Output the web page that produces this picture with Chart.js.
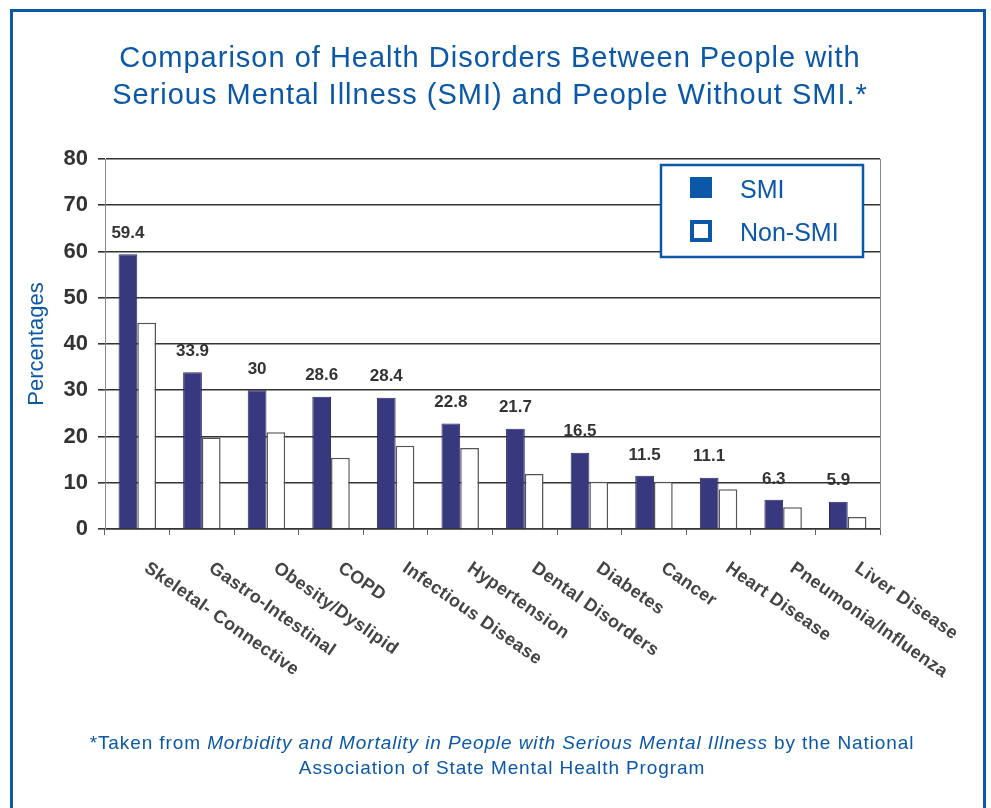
<!DOCTYPE html>
<html>
<head>
<meta charset="utf-8">
<script src="https://cdn.jsdelivr.net/npm/chart.js@4"></script>
<style>
  html, body { margin: 0; padding: 0; background: #fff; }
  body { width: 991px; height: 808px; position: relative; overflow: hidden; }
  #frame {
    position: absolute; left: 10px; top: 9px; width: 970px; height: 820px;
    border: 3px solid #0b58a8; box-sizing: content-box;
  }
  #title {
    position: absolute; left: 0; top: 39px; width: 980px; text-align: center;
    font: 29px/37px "Liberation Sans", Arial, sans-serif; letter-spacing: 1px; color: #0b58a8;
  }
  #note {
    position: absolute; left: 0; top: 730px; width: 1004px; text-align: center;
    font: 19px/25px "Liberation Sans", Arial, sans-serif; letter-spacing: 0.9px; color: #0b58a8;
  }
  #wrap { position: absolute; left: 0; top: 0; width: 991px; height: 808px; }
</style>
</head>
<body>
<div id="frame"></div>
<div id="wrap"><canvas id="chart"></canvas></div>
<div id="title">Comparison of Health Disorders Between People with<br>Serious Mental Illness (SMI) and People Without SMI.*</div>
<div id="note">*Taken from <i>Morbidity and Mortality in People with Serious Mental Illness</i> by the National<br>Association of State Mental Health Program</div>
<script>
// données
const categories = ['Skeletal- Connective', 'Gastro-Intestinal', 'Obesity/Dyslipid', 'COPD',
  'Infectious Disease', 'Hypertension', 'Dental Disorders', 'Diabetes', 'Cancer',
  'Heart Disease', 'Pneumonia/Influenza', 'Liver Disease'];
const smiValues = [59.4, 33.9, 30, 28.6, 28.4, 22.8, 21.7, 16.5, 11.5, 11.1, 6.3, 5.9];
const nonSmiValues = [44.6, 19.8, 20.9, 15.4, 18.0, 17.5, 11.9, 10.2, 10.2, 8.6, 4.7, 2.6];
const seriesNames = ['SMI', 'Non-SMI'];
const yTicks = [0, 10, 20, 30, 40, 50, 60, 70, 80];

const BLUE = '#0b58a8';
const NAVY = '#38387f';

// étiquettes de catégories inclinées vers le bas (début du texte près du repère)
const slantLabels = {
  id: 'slantLabels',
  afterDraw(chart) {
    const ctx = chart.ctx, xs = chart.scales.x;
    ctx.save();
    ctx.font = 'bold 18px "Liberation Sans", Arial, sans-serif';
    ctx.fillStyle = '#444';
    ctx.letterSpacing = '0.4px';
    ctx.textBaseline = 'top';
    ctx.textAlign = 'left';
    categories.forEach((c, i) => {
      const x = xs.getPixelForValue(i);
      ctx.save();
      ctx.translate(x + 14, chart.chartArea.bottom + 30);
      ctx.rotate(35 * Math.PI / 180);
      ctx.fillText(c, 0, 0);
      ctx.restore();
    });
    ctx.restore();
  }
};

// valeurs au-dessus des barres SMI
const valueLabels = {
  id: 'valueLabels',
  afterDatasetsDraw(chart) {
    const ctx = chart.ctx;
    const meta = chart.getDatasetMeta(0);
    ctx.save();
    ctx.font = 'bold 17px "Liberation Sans", Arial, sans-serif';
    ctx.fillStyle = '#333';
    ctx.textAlign = 'center';
    ctx.textBaseline = 'middle';
    meta.data.forEach((bar, i) => {
      ctx.fillText(String(smiValues[i]), bar.x, bar.y - 21);
    });
    ctx.restore();
  }
};

// bord droit de la zone de tracé
const rightEdge = {
  id: 'rightEdge',
  beforeDatasetsDraw(chart) {
    const {ctx, chartArea: a} = chart;
    ctx.save();
    ctx.strokeStyle = '#888';
    ctx.lineWidth = 1;
    ctx.beginPath();
    ctx.moveTo(a.right + 0.5, a.top);
    ctx.lineTo(a.right + 0.5, a.bottom);
    ctx.stroke();
    ctx.restore();
  }
};

// légende encadrée dans le coin supérieur droit
const boxLegend = {
  id: 'boxLegend',
  afterDraw(chart) {
    const ctx = chart.ctx;
    const x = 661, y = 165, w = 202, h = 92;
    ctx.save();
    ctx.fillStyle = '#fff';
    ctx.fillRect(x, y, w, h);
    ctx.strokeStyle = BLUE;
    ctx.lineWidth = 2.5;
    ctx.strokeRect(x, y, w, h);
    ctx.font = '25px "Liberation Sans", Arial, sans-serif';
    ctx.textBaseline = 'middle';
    chart.data.datasets.forEach((ds, i) => {
      const cy = 188 + i * 43;
      if (i === 0) {
        ctx.fillStyle = BLUE;
        ctx.fillRect(690, cy - 11, 22, 21);
      } else {
        ctx.strokeStyle = BLUE;
        ctx.lineWidth = 4;
        ctx.strokeRect(692, cy - 9, 18, 18);
      }
      ctx.fillStyle = BLUE;
      ctx.fillText(ds.label, 740, cy + 3);
    });
    ctx.restore();
  }
};

new Chart(document.getElementById('chart'), {
  type: 'bar',
  data: {
    labels: categories,
    datasets: [
      {
        label: seriesNames[0],
        data: smiValues,
        backgroundColor: NAVY,
        borderColor: '#2a2a66',
        borderWidth: 1,
        borderSkipped: 'start'
      },
      {
        label: seriesNames[1],
        data: nonSmiValues,
        backgroundColor: '#fff',
        borderColor: '#555',
        borderWidth: 1.5,
        borderSkipped: 'start'
      }
    ]
  },
  options: {
    responsive: true,
    maintainAspectRatio: false,
    animation: false,
    layout: { padding: { left: 12, right: 111, top: 159, bottom: 271 } },
    datasets: { bar: { categoryPercentage: 0.58, barPercentage: 1 } },
    plugins: { legend: { display: false }, tooltip: { enabled: false } },
    scales: {
      x: {
        afterFit(s) { s.height = 8; },
        ticks: { display: false },
        grid: { drawOnChartArea: false, drawTicks: true, tickLength: 6, color: '#666', offset: true },
        border: { display: true, color: '#333', width: 1.5 }
      },
      y: {
        min: 0,
        max: 80,
        afterFit(s) { s.width = 93; },
        afterBuildTicks(s) { s.ticks = yTicks.map(v => ({ value: v })); },
        ticks: {
          padding: 10,
          color: '#333',
          font: { family: '"Liberation Sans", Arial, sans-serif', size: 22, weight: 'bold' }
        },
        grid: { color: '#333', lineWidth: 1.6, tickLength: 7 },
        border: { display: true, color: '#888', width: 1 },
        title: {
          display: true,
          text: 'Percentages',
          color: BLUE,
          padding: { top: 12, bottom: 0 },
          font: { family: '"Liberation Sans", Arial, sans-serif', size: 22 }
        }
      }
    }
  },
  plugins: [rightEdge, valueLabels, slantLabels, boxLegend]
});
</script>
</body>
</html>
